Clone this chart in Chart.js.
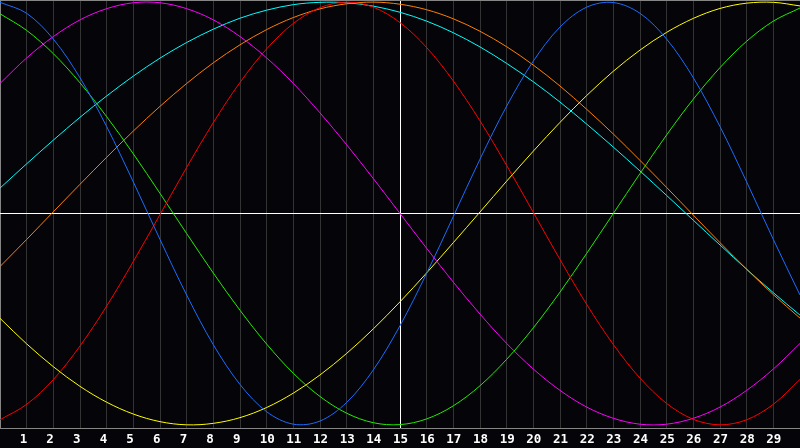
<!DOCTYPE html>
<html>
<head>
<meta charset="utf-8">
<script src="https://cdn.jsdelivr.net/npm/chart.js@4/dist/chart.umd.min.js"></script>
<style>
  html, body { margin: 0; padding: 0; background: #050408; }
  #wrap { width: 800px; height: 448px; position: relative; }
</style>
</head>
<body>
<div id="wrap"><canvas id="bioChart"></canvas></div>
<script>
// days shown on the x axis (0 .. 30), labels only for 1 .. 29
const days = [0,1,2,3,4,5,6,7,8,9,10,11,12,13,14,15,16,17,18,19,20,21,22,23,24,25,26,27,28,29,30];
const dayLabels = ['1','2','3','4','5','6','7','8','9','10','11','12','13','14','15',
                   '16','17','18','19','20','21','22','23','24','25','26','27','28','29'];
const today = 15;

// cycle values, one per day
const physical = [0.999,0.947,0.825,0.642,0.411,0.149,-0.123,-0.386,-0.621,-0.809,-0.938,-0.997,-0.982,-0.894,-0.740,-0.531,
                  -0.283,-0.014,0.257,0.508,0.721,0.882,0.976,0.998,0.947,0.825,0.642,0.411,0.149,-0.123,-0.386];
const emotional = [-0.976,-0.903,-0.786,-0.627,-0.438,-0.227,-0.005,0.218,0.430,0.620,0.779,0.899,0.974,1.000,0.976,0.903,
                   0.785,0.627,0.438,0.227,0.005,-0.218,-0.430,-0.620,-0.779,-0.899,-0.974,-1.000,-0.976,-0.903,-0.785];
const intellectual = [0.945,0.866,0.756,0.618,0.458,0.282,0.095,-0.095,-0.282,-0.458,-0.618,-0.756,-0.866,-0.945,-0.990,-0.999,
                      -0.972,-0.910,-0.815,-0.690,-0.541,-0.372,-0.189,0.000,0.189,0.372,0.541,0.690,0.815,0.910,0.972];
const intuitive = [0.615,0.736,0.837,0.916,0.969,0.997,0.997,0.969,0.916,0.837,0.736,0.615,0.476,0.325,0.165,0.000,
                   -0.165,-0.325,-0.476,-0.615,-0.736,-0.837,-0.916,-0.969,-0.997,-0.997,-0.969,-0.916,-0.837,-0.736,-0.615];
const aesthetic = [-0.496,-0.617,-0.725,-0.818,-0.893,-0.949,-0.985,-1.000,-0.993,-0.966,-0.918,-0.850,-0.764,-0.662,-0.546,-0.418,
                   -0.281,-0.138,0.007,0.153,0.295,0.431,0.558,0.673,0.773,0.857,0.923,0.970,0.995,0.999,0.982];
const awareness = [-0.251,-0.123,0.008,0.138,0.266,0.390,0.507,0.615,0.713,0.798,0.870,0.927,0.968,0.992,1.000,0.990,
                   0.964,0.921,0.862,0.789,0.702,0.603,0.493,0.376,0.251,0.123,-0.008,-0.138,-0.264,-0.384,-0.495];
const spiritual = [0.120,0.235,0.347,0.455,0.556,0.650,0.735,0.809,0.872,0.924,0.962,0.988,0.999,0.997,0.981,0.952,
                   0.910,0.855,0.788,0.710,0.623,0.527,0.423,0.314,0.201,0.085,-0.032,-0.149,-0.264,-0.375,-0.481];

const seriesNames = ['Physical','Emotional','Intellectual','Intuitive','Aesthetic','Awareness','Spiritual'];
const seriesColors = ['#1a6eff','#ff0000','#22ee00','#ff00ff','#ffff00','#ff8000','#00ffff'];
const seriesValues = [physical, emotional, intellectual, intuitive, aesthetic, awareness, spiritual];

const yMin = -1.015, yMax = 1.01;

const datasets = seriesValues.map((vals, i) => ({
    label: seriesNames[i],
    data: vals.map((v, j) => ({ x: days[j], y: v })),
    borderColor: seriesColors[i],
    borderWidth: 1,
    pointRadius: 0,
    pointHoverRadius: 0,
    tension: 0.34,
    fill: false
}));

const ctx = document.getElementById('bioChart').getContext('2d');
new Chart(ctx, {
    type: 'line',
    data: { datasets: datasets },
    options: {
        responsive: true,
        maintainAspectRatio: false,
        animation: false,
        events: [],
        layout: { padding: 0, autoPadding: false },
        plugins: { legend: { display: false }, tooltip: { enabled: false } },
        scales: {
            x: {
                type: 'linear',
                min: days[0],
                max: days[days.length - 1],
                afterFit: scale => { scale.height = 20; },
                afterBuildTicks: scale => {
                    scale.ticks = days.map(d => ({ value: d }));
                },
                border: { display: true, color: '#858585', width: 1 },
                grid: {
                    drawTicks: true,
                    tickLength: 4,
                    tickColor: 'rgba(0,0,0,0)',
                    lineWidth: 1,
                    color: c => {
                        const v = c.tick ? c.tick.value : null;
                        if (v === today) return '#ffffff';
                        if (v === days[0]) return '#858585';
                        if (v === days[days.length - 1]) return 'rgba(0,0,0,0)';
                        return '#333333';
                    }
                },
                ticks: {
                    autoSkip: false,
                    maxRotation: 0,
                    align: 'start',
                    labelOffset: -7,
                    padding: 0,
                    color: '#ffffff',
                    font: { family: '"DejaVu Sans Mono", monospace', size: 12.5, weight: 'bold' },
                    callback: v => dayLabels[v - 1] || ''
                }
            },
            y: {
                min: yMin,
                max: yMax,
                afterFit: scale => { scale.width = 0; },
                afterBuildTicks: scale => {
                    scale.ticks = [{ value: yMax }, { value: 0 }];
                },
                border: { display: false },
                grid: {
                    drawTicks: false,
                    lineWidth: 1,
                    color: c => (c.tick && c.tick.value === 0) ? '#ffffff' : '#858585'
                },
                ticks: { display: false, padding: 0 }
            }
        }
    }
});
</script>
</body>
</html>
